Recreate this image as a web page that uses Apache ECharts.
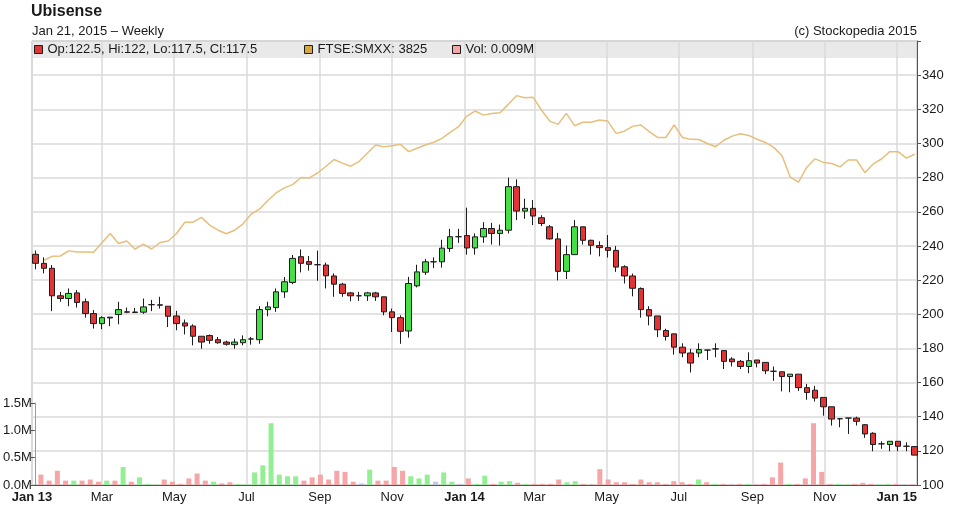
<!DOCTYPE html>
<html>
<head>
<meta charset="utf-8">
<title>Ubisense</title>
<script src="https://cdn.jsdelivr.net/npm/echarts@6/dist/echarts.min.js"></script>
<style>
  html, body { margin: 0; padding: 0; background: #fff; }
  #chart { width: 953px; height: 520px; }
</style>
</head>
<body>
<div id="chart"></div>
<script>
// weekly candles from the first week of Jan 2013 to Jan 2015
const FIRST_WEEK = [2013, 0, 4];

const opens = [
  235.1, 229.8, 226.9, 210.8, 209.2, 212.5, 207.3, 200.4, 194.5, 198.3,
  199.8, 201.4, 201.0, 201.2, 205.6, 205.5, 204.7, 199.0, 194.9, 193.1,
  187.1, 187.5, 185.1, 183.7, 182.2, 183.3, 185.5, 185.1, 202.7, 203.9,
  213.1, 218.6, 233.7, 230.8, 229.0, 228.8, 222.4, 217.6, 212.5, 210.8,
  210.8, 212.5, 210.2, 201.4, 198.0, 190.2, 216.6, 224.6, 230.7, 230.7,
  238.5, 245.4, 246.1, 238.8, 245.3, 250.2, 247.3, 249.2, 274.7, 260.4,
  262.0, 256.5, 251.2, 244.1, 225.1, 234.9, 251.2, 243.3, 240.2, 239.0,
  237.4, 227.8, 222.4, 215.1, 202.7, 199.0, 190.5, 188.5, 180.7, 177.3,
  177.3, 179.0, 179.7, 178.7, 173.8, 172.4, 169.4, 173.2, 171.8, 166.6,
  166.3, 163.5, 164.9, 157.0, 155.5, 151.3, 145.8, 138.8, 139.2, 139.2,
  135.3, 130.3, 124.1, 123.7, 125.6, 122.7, 122.5
];
const closes = [
  229.8, 226.9, 210.8, 209.2, 212.2, 206.9, 200.4, 194.5, 198.0, 197.8,
  202.7, 201.2, 201.3, 204.3, 205.6, 205.3, 198.8, 194.5, 193.1, 187.1,
  183.7, 184.7, 183.3, 182.4, 183.7, 185.1, 185.5, 202.7, 204.3, 213.1,
  219.0, 232.7, 229.8, 229.2, 229.0, 222.5, 217.6, 212.2, 210.8, 210.8,
  212.5, 210.2, 201.4, 198.0, 190.0, 218.0, 224.8, 230.7, 230.7, 238.7,
  245.4, 245.4, 238.8, 245.3, 250.2, 247.3, 249.2, 274.7, 260.4, 262.0,
  257.5, 253.1, 244.1, 225.1, 234.9, 251.2, 243.3, 240.4, 239.0, 237.4,
  227.6, 222.4, 215.2, 202.7, 199.0, 190.9, 187.0, 180.7, 177.3, 171.4,
  179.3, 179.0, 179.7, 172.4, 172.2, 169.4, 172.8, 171.4, 166.9, 166.6,
  163.5, 164.9, 157.0, 154.2, 150.9, 145.8, 138.6, 138.8, 139.2, 137.3,
  129.9, 123.7, 124.1, 125.6, 122.7, 122.7, 117.5
];
const lows = [
  226.3, 223.9, 201.8, 207.3, 204.7, 203.9, 198.0, 191.6, 191.2, 193.0,
  194.1, 200.6, 200.8, 200.2, 201.8, 203.3, 192.5, 190.6, 188.2, 181.8,
  179.8, 182.7, 182.7, 181.6, 179.8, 181.8, 182.2, 182.7, 198.8, 201.4,
  209.6, 217.6, 224.5, 225.5, 219.6, 215.1, 210.2, 210.2, 207.6, 207.8,
  207.8, 207.8, 199.4, 189.6, 182.7, 186.3, 215.7, 223.0, 227.0, 227.3,
  236.5, 241.8, 234.9, 234.9, 241.8, 240.8, 240.2, 247.3, 255.1, 255.9,
  252.2, 251.6, 243.7, 219.8, 220.6, 234.9, 240.8, 234.9, 233.9, 233.2,
  224.8, 218.0, 210.5, 198.0, 193.5, 186.6, 184.6, 176.3, 174.8, 165.9,
  174.8, 173.2, 174.8, 167.9, 169.4, 167.9, 165.5, 168.9, 164.9, 161.0,
  154.8, 154.3, 155.0, 149.9, 148.9, 140.6, 134.8, 133.8, 129.9, 134.8,
  127.6, 119.8, 121.2, 119.8, 119.8, 119.8, 117.5
];
const highs = [
  237.3, 233.3, 228.8, 213.1, 215.1, 214.1, 209.2, 202.4, 198.8, 198.3,
  207.3, 203.9, 203.7, 209.2, 208.4, 210.2, 204.7, 202.0, 196.9, 194.1,
  187.1, 188.2, 186.7, 184.5, 185.7, 187.6, 186.7, 204.7, 207.3, 215.1,
  221.8, 234.7, 238.0, 234.1, 237.3, 230.2, 223.9, 218.4, 213.1, 213.1,
  213.1, 213.1, 210.2, 203.3, 199.4, 221.9, 229.0, 232.4, 233.3, 243.6,
  250.0, 250.0, 262.4, 247.3, 253.9, 253.5, 252.5, 280.0, 279.0, 267.6,
  266.9, 258.0, 252.2, 247.6, 240.2, 255.1, 251.2, 243.7, 242.7, 246.4,
  240.0, 228.7, 223.8, 215.7, 204.7, 199.0, 191.5, 188.5, 183.0, 179.7,
  183.0, 179.3, 183.0, 178.7, 174.8, 173.2, 177.7, 173.2, 171.8, 169.4,
  166.3, 164.9, 164.9, 159.2, 158.1, 151.3, 145.8, 139.2, 139.2, 140.0,
  135.7, 130.9, 125.6, 125.6, 125.6, 125.0, 122.5
];
// weekly volume, millions of shares
const volumes = [
  0.19, 0.08, 0.26, 0.08, 0.08, 0.08, 0.10, 0.06, 0.08, 0.08,
  0.33, 0.06, 0.14, 0.02, 0.005, 0.10, 0.06, 0.02, 0.12, 0.21,
  0.08, 0.06, 0.03, 0.05, 0.02, 0.01, 0.23, 0.36, 1.13, 0.19,
  0.16, 0.16, 0.08, 0.14, 0.19, 0.10, 0.26, 0.24, 0.06, 0.03,
  0.28, 0.08, 0.08, 0.33, 0.26, 0.16, 0.12, 0.19, 0.06, 0.23,
  0.06, 0.02, 0.12, 0.02, 0.17, 0.02, 0.06, 0.07, 0.04, 0.02,
  0.02, 0.02, 0.02, 0.10, 0.05, 0.07, 0.02, 0.01, 0.29, 0.10,
  0.05, 0.05, 0.02, 0.10, 0.05, 0.05, 0.02, 0.07, 0.05, 0.02,
  0.10, 0.05, 0.02, 0.02, 0.01, 0.02, 0.02, 0.01, 0.02, 0.14,
  0.41, 0.02, 0.02, 0.12, 1.13, 0.24, 0.02, 0.02, 0.01, 0.02,
  0.04, 0.02, 0.01, 0.02, 0.02, 0.01, 0.009
];
// FTSE SmallCap index, rebased onto the price scale
const ftse = [
  null, 231.6, 233.9, 234.1, 237.1, 236.5, 236.5, 236.3, 241.8, 247.3,
  241.4, 242.9, 238.1, 241.0, 238.2, 242.0, 242.9, 247.3, 253.9, 253.9,
  256.7, 252.2, 249.2, 247.1, 249.2, 252.8, 258.7, 261.5, 266.6, 271.0,
  274.0, 275.9, 280.1, 279.8, 282.7, 286.5, 290.6, 288.5, 286.7, 289.4,
  294.3, 299.1, 298.0, 298.7, 299.5, 295.2, 297.2, 299.1, 300.7, 303.0,
  306.5, 309.8, 316.0, 319.0, 316.6, 317.6, 318.0, 322.9, 328.0, 326.8,
  327.0, 319.6, 313.1, 311.2, 317.6, 310.4, 312.4, 312.4, 313.7, 313.1,
  305.9, 307.2, 310.0, 310.8, 306.9, 303.5, 303.5, 310.8, 303.5, 302.4,
  302.3, 300.0, 298.1, 301.9, 304.3, 305.7, 304.7, 302.5, 300.6, 297.7,
  292.9, 280.3, 277.3, 286.1, 291.0, 288.9, 288.3, 286.3, 290.3, 290.3,
  282.9, 288.0, 290.9, 295.2, 295.2, 291.4, 293.7
];

const MONTHS = ['Jan', 'Feb', 'Mar', 'Apr', 'May', 'Jun', 'Jul', 'Aug', 'Sep', 'Oct', 'Nov', 'Dec'];
const LEGEND_OHLC = 'Op:122.5, Hi:122, Lo:117.5, Cl:117.5';
const LEGEND_FTSE = 'FTSE:SMXX: 3825';
const LEGEND_VOL = 'Vol: 0.009M';

const FONT = '"Liberation Sans", Arial, sans-serif';
const TXT = '#1a1a1a';
const UP = '#45e045', DOWN = '#e23434', EDGE = '#1c1c1c';
const VOL_UP = '#94ef94', VOL_DOWN = '#f6a6a6', VOL_FLAT = '#c4c8dc';
const GRIDLINE = '#dadada';
const FRAME = '#9a9a9a';

const weeks = opens.map((_, i) =>
  new Date(FIRST_WEEK[0], FIRST_WEEK[1], FIRST_WEEK[2] + 7 * i).getTime());
const xMin = new Date(2013, 0, 1).getTime();
const xMax = new Date(2015, 0, 18).getTime();

const candles = weeks.map((t, i) => [t, opens[i], closes[i], lows[i], highs[i]]);
const ftseLine = [];
weeks.forEach((t, i) => { if (ftse[i] != null) ftseLine.push([t, ftse[i]]); });
const volBars = weeks.map((t, i) => {
  const prev = i > 0 ? closes[i - 1] : Infinity;
  const col = closes[i] > prev ? VOL_UP : closes[i] < prev ? VOL_DOWN : VOL_FLAT;
  return { value: [t, volumes[i]], itemStyle: { color: col } };
});

const chart = echarts.init(document.getElementById('chart'));

const legendBase = {
  top: 43,
  padding: 0,
  itemWidth: 8,
  itemHeight: 8,
  itemGap: 5,
  selectedMode: false,
  textStyle: { fontFamily: FONT, fontSize: 13, color: TXT, padding: [1, 0, 0, 0] }
};

const option = {
  backgroundColor: '#fff',
  animation: false,
  textStyle: { fontFamily: FONT },
  title: [
    { text: 'Ubisense', left: 31, top: 4, padding: 0,
      textStyle: { fontFamily: FONT, fontSize: 16, fontWeight: 'bold', color: TXT } },
    { text: 'Jan 21, 2015 \u2013 Weekly', left: 32, top: 25, padding: 0,
      textStyle: { fontFamily: FONT, fontSize: 13, fontWeight: 'normal', color: TXT } },
    { text: '(c) Stockopedia 2015', right: 36, top: 25, padding: 0,
      textStyle: { fontFamily: FONT, fontSize: 13, fontWeight: 'normal', color: TXT } }
  ],
  legend: [
    Object.assign({}, legendBase, { left: 34,
      data: [{ name: LEGEND_OHLC, icon: 'rect', itemStyle: { color: DOWN, borderColor: EDGE, borderWidth: 1 } }] }),
    Object.assign({}, legendBase, { left: 304,
      data: [{ name: LEGEND_FTSE, icon: 'rect', itemStyle: { color: '#d8a83c', borderColor: EDGE, borderWidth: 1 } }] }),
    Object.assign({}, legendBase, { left: 452,
      data: [{ name: LEGEND_VOL, icon: 'rect', itemStyle: { color: VOL_DOWN, borderColor: EDGE, borderWidth: 1 } }] })
  ],
  graphic: [
    { type: 'rect', z: -1, silent: true,
      shape: { x: 32, y: 41, width: 885, height: 17 },
      style: { fill: '#e9e9e9' } }
  ],
  grid: [
    { left: 32, right: 36, top: 41, bottom: 35, show: true, borderColor: FRAME, borderWidth: 1 },
    { left: 32, right: 36, top: 403, bottom: 35 }
  ],
  xAxis: [
    {
      type: 'time', gridIndex: 0, min: xMin, max: xMax, splitNumber: 12,
      axisLine: { lineStyle: { color: '#555' } },
      axisTick: { show: false },
      splitLine: { show: true, lineStyle: { color: GRIDLINE, width: 1.5 } },
      axisLabel: {
        margin: 6, fontSize: 13, color: TXT, hideOverlap: false,
        formatter: (v) => {
          const d = new Date(v);
          if (d.getDate() !== 1) return '';
          const m = d.getMonth();
          if (m === 0) return '{b|Jan ' + String(d.getFullYear()).slice(2) + '}';
          return m % 2 === 0 ? MONTHS[m] : '';
        },
        rich: { b: { fontWeight: 'bold', fontSize: 13, fontFamily: FONT, color: TXT } }
      }
    },
    {
      type: 'time', gridIndex: 1, min: xMin, max: xMax, show: false,
      splitLine: { show: false }
    }
  ],
  yAxis: [
    {
      type: 'value', gridIndex: 0, position: 'right', min: 100, max: 360, interval: 20,
      axisLine: { show: true, lineStyle: { color: '#555' } },
      axisTick: { show: true, length: 4, lineStyle: { color: '#555' } },
      splitLine: { show: true, lineStyle: { color: GRIDLINE, width: 1.5 } },
      axisLabel: { margin: 5, fontSize: 13, color: TXT,
        formatter: (v) => (v >= 360 ? '' : String(v)) }
    },
    {
      type: 'value', gridIndex: 1, position: 'left', min: 0, max: 1.5, interval: 0.5,
      axisLine: { show: true, lineStyle: { color: FRAME } },
      axisTick: { show: true, length: 4, lineStyle: { color: '#555' } },
      splitLine: { show: false },
      axisLabel: { margin: 3, fontSize: 13, color: TXT,
        formatter: (v) => v.toFixed(1) + 'M' }
    }
  ],
  series: [
    {
      name: LEGEND_VOL, type: 'bar', xAxisIndex: 1, yAxisIndex: 1,
      barWidth: 5, data: volBars, itemStyle: { color: VOL_DOWN }
    },
    {
      name: LEGEND_FTSE, type: 'line', xAxisIndex: 0, yAxisIndex: 0,
      data: ftseLine, showSymbol: false, symbol: 'none',
      lineStyle: { color: '#e6bf7c', width: 1.5 }, itemStyle: { color: '#d8a83c' }
    },
    {
      name: LEGEND_OHLC, type: 'candlestick', xAxisIndex: 0, yAxisIndex: 0,
      barWidth: 6, data: candles, z: 5,
      itemStyle: {
        color: UP, color0: DOWN,
        borderColor: EDGE, borderColor0: EDGE, borderColorDoji: EDGE, borderWidth: 1
      }
    }
  ]
};

chart.setOption(option);
</script>
</body>
</html>
